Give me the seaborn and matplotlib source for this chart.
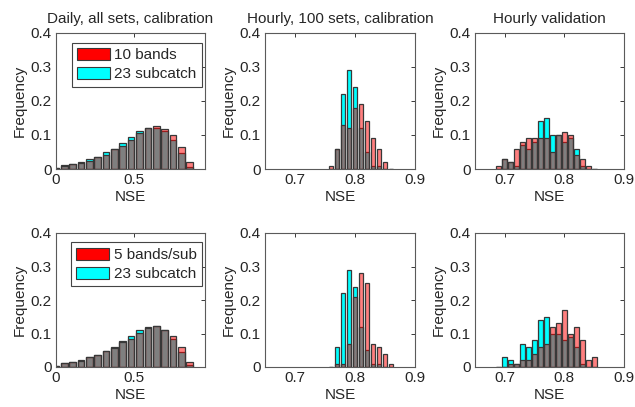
import numpy as np
import matplotlib
matplotlib.use("Agg")
import matplotlib.pyplot as plt
from matplotlib.patches import Patch
import seaborn as sns

# Bin centres (NSE)
daily_start = 0.0
daily_width = 0.0538
daily_nbins = 17
hourly_cal_nse = [0.76, 0.77, 0.78, 0.79, 0.80, 0.81, 0.82, 0.83, 0.84, 0.85, 0.86]
hourly_val_nse = [0.69, 0.70, 0.71, 0.72, 0.73, 0.74, 0.75, 0.76, 0.77, 0.78,
                  0.79, 0.80, 0.81, 0.82, 0.83, 0.84, 0.85]

# Daily, all sets, calibration
daily_sub23 = [0.004, 0.011, 0.014, 0.020, 0.029, 0.036, 0.049, 0.060, 0.077,
               0.093, 0.111, 0.120, 0.121, 0.111, 0.084, 0.046, 0.005]
daily_bands10 = [0.003, 0.010, 0.015, 0.017, 0.025, 0.035, 0.041, 0.058, 0.069,
                 0.085, 0.106, 0.121, 0.127, 0.119, 0.100, 0.066, 0.020]
daily_bands5 = [0.004, 0.011, 0.014, 0.018, 0.029, 0.036, 0.049, 0.058, 0.074,
                0.085, 0.102, 0.115, 0.121, 0.110, 0.092, 0.060, 0.015]

# Hourly, 100 sets, calibration
hcal_sub23 = [0.00, 0.06, 0.22, 0.29, 0.24, 0.12, 0.05, 0.01, 0.01, 0.00, 0.00]
hcal_bands10 = [0.01, 0.06, 0.13, 0.12, 0.18, 0.19, 0.14, 0.09, 0.06, 0.02, 0.00]
hcal_bands5 = [0.00, 0.01, 0.01, 0.07, 0.21, 0.28, 0.25, 0.07, 0.06, 0.04, 0.01]

# Hourly validation
hval_sub23 = [0.00, 0.03, 0.02, 0.01, 0.07, 0.06, 0.08, 0.14, 0.15, 0.10,
              0.10, 0.08, 0.09, 0.06, 0.01, 0.00, 0.00]
hval_bands10 = [0.01, 0.03, 0.02, 0.06, 0.08, 0.09, 0.09, 0.09, 0.09, 0.05,
                0.10, 0.11, 0.10, 0.04, 0.03, 0.01, 0.00]
hval_bands5 = [0.00, 0.00, 0.01, 0.01, 0.02, 0.02, 0.04, 0.06, 0.07, 0.12,
               0.13, 0.17, 0.10, 0.12, 0.08, 0.02, 0.03]

daily_nse = list(daily_start + daily_width * np.arange(daily_nbins))

sns.set_style("white")
plt.rcParams["font.family"] = ["Liberation Sans", "DejaVu Sans"]
plt.rcParams["font.size"] = 11

EDGE = "#383838"
CYAN = (0.0, 1.0, 1.0, 1.0)
RED = (1.0, 0.0, 0.0, 0.5)


def edges_of(centres):
    c = np.asarray(centres, dtype=float)
    w = c[1] - c[0]
    return list(np.append(c - w / 2, c[-1] + w / 2))


def panel(ax, centres, sub, bands):
    bins = edges_of(centres)
    sns.histplot(x=list(centres), weights=list(sub), bins=bins, shrink=0.8, ax=ax,
                 facecolor=CYAN, edgecolor=EDGE, linewidth=0.9)
    sns.histplot(x=list(centres), weights=list(bands), bins=bins, shrink=0.8, ax=ax,
                 facecolor=RED, edgecolor=EDGE, linewidth=0.9)
    ax.set_ylim(0, 0.4)
    ax.set_yticks([0, 0.1, 0.2, 0.3, 0.4])
    ax.set_yticklabels(["0", "0.1", "0.2", "0.3", "0.4"])
    ax.set_xlabel("NSE", labelpad=2)
    ax.set_ylabel("Frequency", labelpad=3)
    ax.tick_params(direction="in", length=3, top=True, right=True,
                   color=EDGE, width=0.7, pad=3, labelsize=11)
    for s in ax.spines.values():
        s.set_color("#5a5a5a")
        s.set_linewidth(0.8)


fig = plt.figure(figsize=(6.35, 4.07), dpi=100)
lefts = [56, 265, 475]
widths = [149, 150, 149]
rows = [(169, 136), (367, 134)]
axes = []
for (bot, h) in rows:
    row = []
    for l, w in zip(lefts, widths):
        row.append(fig.add_axes([l / 635, (407 - bot) / 407, w / 635, h / 407]))
    axes.append(row)

panel(axes[0][0], daily_nse, daily_sub23, daily_bands10)
panel(axes[0][1], hourly_cal_nse, hcal_sub23, hcal_bands10)
panel(axes[0][2], hourly_val_nse, hval_sub23, hval_bands10)
panel(axes[1][0], daily_nse, daily_sub23, daily_bands5)
panel(axes[1][1], hourly_cal_nse, hcal_sub23, hcal_bands5)
panel(axes[1][2], hourly_val_nse, hval_sub23, hval_bands5)

for r in range(2):
    axes[r][0].set_xlim(0, 0.96)
    axes[r][0].set_xticks([0, 0.5])
    axes[r][0].set_xticklabels(["0", "0.5"])
    for c in (1, 2):
        axes[r][c].set_xlim(0.65, 0.9)
        axes[r][c].set_xticks([0.7, 0.8, 0.9])
        axes[r][c].set_xticklabels(["0.7", "0.8", "0.9"])

titles = ["Daily, all sets, calibration", "Hourly, 100 sets, calibration",
          "Hourly validation"]
for ax, t in zip(axes[0], titles):
    ax.set_title(t, fontsize=11, pad=7)

for ax, lab in zip([axes[0][0], axes[1][0]], ["10 bands", "5 bands/sub"]):
    handles = [Patch(facecolor="red", edgecolor=EDGE, linewidth=0.8),
               Patch(facecolor="cyan", edgecolor=EDGE, linewidth=0.8)]
    leg = ax.legend(handles, [lab, "23 subcatch"], loc="upper right",
                    bbox_to_anchor=(0.98, 0.93), borderaxespad=0,
                    fancybox=False, framealpha=1, edgecolor="#444444",
                    handlelength=2.15, handleheight=0.85, handletextpad=0.3,
                    labelspacing=0.3, borderpad=0.35, fontsize=11)
    leg.get_frame().set_linewidth(0.8)

fig.savefig("out.png", dpi=100)
